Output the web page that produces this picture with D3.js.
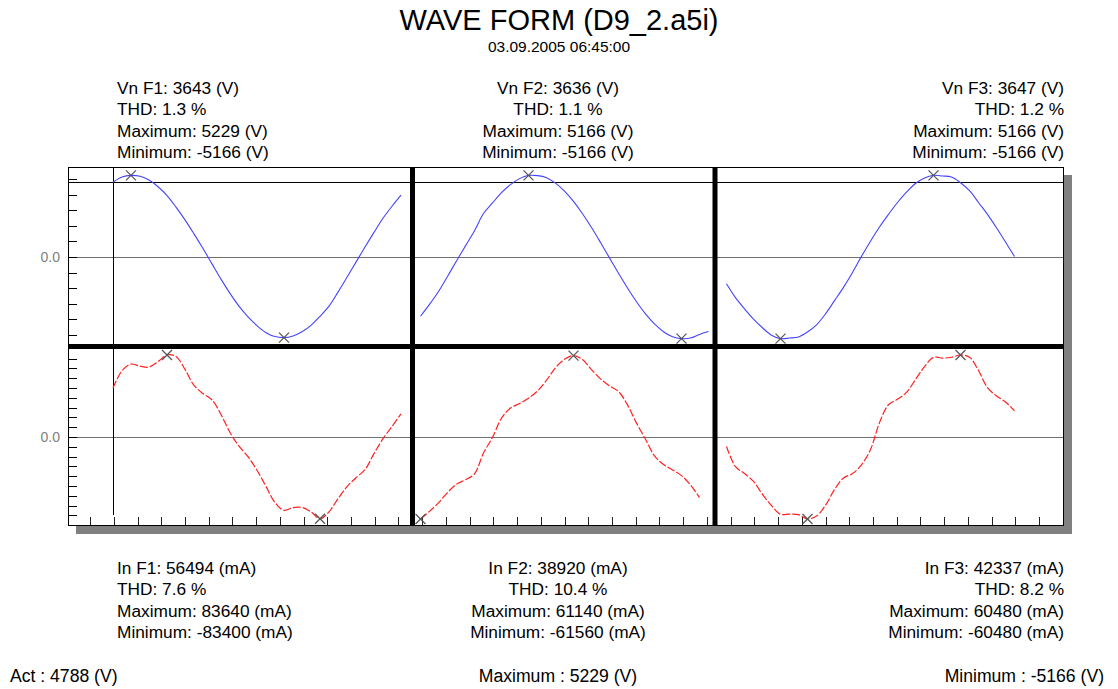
<!DOCTYPE html>
<html>
<head>
<meta charset="utf-8">
<script src="https://cdn.jsdelivr.net/npm/d3@7"></script>
<style>
  html, body { margin: 0; padding: 0; background: #ffffff; }
  svg { display: block; font-family: "Liberation Sans", Arial, sans-serif; }
</style>
</head>
<body>
<svg id="chart" width="1118" height="689"></svg>
<script>
// ---------------- data ----------------
const phases = ["F1", "F2", "F3"];
const sampleStepMs = 0.6;              // spacing of the recorded samples
const startMs = [3.0, 23.5, 43.9];     // first sample of each phase window

// phase-to-neutral voltage samples (V)
const voltageF1 = [4788, 5120, 5229, 5170, 4930, 4500, 3940, 3200, 2380, 1480, 540, -440, -1420,
  -2330, -3150, -3840, -4400, -4850, -5100, -5166, -5060, -4790, -4380, -3800, -3150, -2250,
  -1300, -330, 640, 1580, 2480, 3250, 3960];
const voltageF2 = [-3750, -3000, -2180, -1230, -250, 706, 1659, 2750, 3420, 4070, 4582, 4962, 5166,
  5150, 5023, 4680, 4175, 3520, 2740, 1863, 920, -55, -1028, -1965, -2832, -3600, -4237, -4728,
  -5050, -5166, -5130, -4900, -4720];
const voltageF3 = [-1690, -2570, -3280, -3930, -4480, -4950, -5166, -5130, -5060, -4750, -4300,
  -3600, -2760, -1920, -980, 40, 1000, 1900, 2700, 3450, 4100, 4650, 5000, 5166, 5130, 5060, 4700,
  4200, 3450, 2700, 1850, 950, 30];

// line current samples (mA)
const currentF1 = [50000, 67500, 74400, 72300, 71300, 76800, 83640, 82200, 69000, 52600, 44300,
  37900, 23000, 4600, -9400, -20100, -33900, -50400, -67000, -74800, -72000, -71900, -76300,
  -83400, -76300, -63000, -50700, -41600, -33300, -17000, -1700, 10800, 23500];
const currentF2 = [-61560, -55800, -49400, -41700, -35400, -32100, -27700, -12000, -300, 14100,
  21700, 25100, 29100, 34600, 42600, 52000, 58400, 61140, 58200, 50600, 43600, 38400, 34200,
  24100, 10400, -1700, -14200, -20700, -24700, -29000, -36000, -45500];
const currentF3 = [-7000, -21900, -26900, -32800, -42300, -50600, -57000, -56900, -57300, -60480,
  -58300, -50400, -38700, -30300, -27000, -20500, -9300, 10600, 23800, 27800, 32900, 42400, 51900,
  58800, 58200, 58800, 60480, 58900, 49000, 36400, 30300, 25800, 19300];

// summary values per phase
const vnRms = [3643, 3636, 3647];
const vnThd = [1.3, 1.1, 1.2];
const vnMax = [5229, 5166, 5166];
const vnMin = [-5166, -5166, -5166];
const inRms = [56494, 38920, 42337];
const inThd = [7.6, 10.4, 8.2];
const inMax = [83640, 61140, 60480];
const inMin = [-83400, -61560, -60480];

const actVoltage = 4788;
const overallMax = 5229;
const overallMin = -5166;

const voltageTicks = d3.range(-5000, 5001, 1000);
const currentTicks = d3.range(-90000, 90001, 10000);
const timeTickFirstMs = 1.47;
const timeTickStepMs = 1.5817;
const timeTickCount = 41;

const titleText = "WAVE FORM (D9_2.a5i)";
const dateText = "03.09.2005 06:45:00";

// ---------------- layout ----------------
const W = 1118, H = 689;
const frame = { left: 68, right: 1064, top: 167, bottom: 526 };
const dividerY = 346.5;
const dividerX = [412.5, 715];
const vZero = 257, iZero = 437;
const vHalf = 81.6, iHalf = 82;

const svg = d3.select("#chart");

const voltages = [voltageF1, voltageF2, voltageF3];
const currents = [currentF1, currentF2, currentF3];

const x = d3.scaleLinear().domain([0, 66.4]).range([frame.left, frame.right]);

function absExtent(arr) { return d3.max(arr, d => Math.abs(d)); }
const yV = voltages.map(s => d3.scaleLinear().domain([-absExtent(s), absExtent(s)]).range([vZero + vHalf, vZero - vHalf]));
const yI = currents.map(s => d3.scaleLinear().domain([-absExtent(s), absExtent(s)]).range([iZero + iHalf, iZero - iHalf]));

// ---------------- frame ----------------
svg.append("rect").attr("x", 0).attr("y", 0).attr("width", W).attr("height", H).attr("fill", "#ffffff");

svg.append("rect")
  .attr("x", frame.left + 8).attr("y", frame.top + 8)
  .attr("width", frame.right - frame.left).attr("height", frame.bottom - frame.top)
  .attr("fill", "#808080");
svg.append("rect")
  .attr("x", frame.left).attr("y", frame.top)
  .attr("width", frame.right - frame.left).attr("height", frame.bottom - frame.top)
  .attr("fill", "#ffffff");

// zero reference lines
[vZero, iZero].forEach(y0 => {
  svg.append("line")
    .attr("x1", frame.left).attr("x2", frame.right)
    .attr("y1", y0 + 0.5).attr("y2", y0 + 0.5)
    .attr("stroke", "#707070").attr("stroke-width", 1);
});

// cursor cross at the first sample of phase 1
const cursorX = Math.round(x(startMs[0])) + 0.5;
const cursorY = Math.round(yV[0](actVoltage)) + 0.5;
svg.append("line")
  .attr("x1", frame.left).attr("x2", frame.right)
  .attr("y1", cursorY).attr("y2", cursorY)
  .attr("stroke", "#000").attr("stroke-width", 1);
svg.append("line")
  .attr("x1", cursorX).attr("x2", cursorX)
  .attr("y1", frame.top).attr("y2", frame.bottom - 11)
  .attr("stroke", "#000").attr("stroke-width", 1);

// left ticks (scaled to phase 1)
const leftTicks = svg.append("g").attr("stroke", "#000").attr("stroke-width", 1);
voltageTicks.forEach(v => {
  const y = Math.round(yV[0](v)) + 0.5;
  leftTicks.append("line").attr("x1", frame.left).attr("x2", frame.left + 9).attr("y1", y).attr("y2", y);
});
currentTicks.forEach(v => {
  const y = Math.round(yI[0](v)) + 0.5;
  if (y > dividerY + 3 && y < frame.bottom) {
    leftTicks.append("line").attr("x1", frame.left).attr("x2", frame.left + 9).attr("y1", y).attr("y2", y);
  }
});

// bottom time ticks
const timeTicks = d3.range(timeTickCount).map(k => timeTickFirstMs + k * timeTickStepMs);
const bottomTicks = svg.append("g").attr("stroke", "#222").attr("stroke-width", 1);
timeTicks.forEach(t => {
  const xx = Math.round(x(t)) + 0.5;
  bottomTicks.append("line").attr("x1", xx).attr("x2", xx).attr("y1", frame.bottom).attr("y2", frame.bottom - 9);
});

// zero labels
svg.append("text").attr("x", 60).attr("y", vZero + 5).attr("text-anchor", "end")
  .attr("font-size", 14).attr("fill", "#808080").text("0.0");
svg.append("text").attr("x", 60).attr("y", iZero + 5).attr("text-anchor", "end")
  .attr("font-size", 14).attr("fill", "#808080").text("0.0");

// ---------------- waveforms ----------------
function drawMarker(cx, cy) {
  const r = 5;
  const g = svg.append("g").attr("stroke", "#555").attr("stroke-width", 1.2);
  g.append("line").attr("x1", cx - r).attr("y1", cy - r).attr("x2", cx + r).attr("y2", cy + r);
  g.append("line").attr("x1", cx - r).attr("y1", cy + r).attr("x2", cx + r).attr("y2", cy - r);
}

phases.forEach((ph, p) => {
  const tx = i => x(startMs[p] + i * sampleStepMs);

  const vLine = d3.line().x((d, i) => tx(i)).y(d => yV[p](d)).curve(d3.curveCatmullRom);
  svg.append("path").datum(voltages[p])
    .attr("d", vLine).attr("fill", "none")
    .attr("stroke", "#4444ff").attr("stroke-width", 1.1);

  const iLine = d3.line().x((d, i) => tx(i)).y(d => yI[p](d)).curve(d3.curveCatmullRom);
  svg.append("path").datum(currents[p])
    .attr("d", iLine).attr("fill", "none")
    .attr("stroke", "#ff2020").attr("stroke-width", 1.2)
    .attr("stroke-dasharray", "8,2");

  const vMaxI = d3.maxIndex(voltages[p]), vMinI = d3.minIndex(voltages[p]);
  drawMarker(tx(vMaxI), yV[p](voltages[p][vMaxI]));
  drawMarker(tx(vMinI), yV[p](voltages[p][vMinI]));
  const iMaxI = d3.maxIndex(currents[p]), iMinI = d3.minIndex(currents[p]);
  drawMarker(tx(iMaxI), yI[p](currents[p][iMaxI]));
  drawMarker(tx(iMinI), yI[p](currents[p][iMinI]));
});

// thick dividers and border
svg.append("line")
  .attr("x1", frame.left).attr("x2", frame.right).attr("y1", dividerY).attr("y2", dividerY)
  .attr("stroke", "#000").attr("stroke-width", 5);
dividerX.forEach(dx => {
  svg.append("line")
    .attr("x1", dx).attr("x2", dx).attr("y1", frame.top).attr("y2", frame.bottom)
    .attr("stroke", "#000").attr("stroke-width", 5);
});
svg.append("rect")
  .attr("x", frame.left + 0.5).attr("y", frame.top + 0.5)
  .attr("width", frame.right - frame.left - 1).attr("height", frame.bottom - frame.top - 1)
  .attr("fill", "none").attr("stroke", "#000").attr("stroke-width", 1);

// ---------------- texts ----------------
svg.append("text").attr("x", 559).attr("y", 30).attr("text-anchor", "middle")
  .attr("font-size", 29).attr("fill", "#000").text(titleText);
svg.append("text").attr("x", 559).attr("y", 51.5).attr("text-anchor", "middle")
  .attr("font-size", 15.5).attr("fill", "#000").text(dateText);

const colX = [117, 558, 1064];
const colAnchor = ["start", "middle", "end"];
const labelSize = 17.3;

phases.forEach((ph, p) => {
  const top = [
    `Vn ${ph}: ${vnRms[p]} (V)`,
    `THD: ${vnThd[p].toFixed(1)} %`,
    `Maximum: ${vnMax[p]} (V)`,
    `Minimum: ${vnMin[p]} (V)`
  ];
  const bottom = [
    `In ${ph}: ${inRms[p]} (mA)`,
    `THD: ${inThd[p].toFixed(1)} %`,
    `Maximum: ${inMax[p]} (mA)`,
    `Minimum: ${inMin[p]} (mA)`
  ];
  top.forEach((t, r) => {
    svg.append("text").attr("x", colX[p]).attr("y", 94 + r * 21.3)
      .attr("text-anchor", colAnchor[p]).attr("font-size", labelSize).attr("fill", "#000").text(t);
  });
  bottom.forEach((t, r) => {
    svg.append("text").attr("x", colX[p]).attr("y", 574 + r * 21.3)
      .attr("text-anchor", colAnchor[p]).attr("font-size", labelSize).attr("fill", "#000").text(t);
  });
});

svg.append("text").attr("x", 10).attr("y", 682).attr("text-anchor", "start")
  .attr("font-size", 17.6).attr("fill", "#000").text(`Act : ${actVoltage} (V)`);
svg.append("text").attr("x", 558).attr("y", 682).attr("text-anchor", "middle")
  .attr("font-size", 17.6).attr("fill", "#000").text(`Maximum : ${overallMax} (V)`);
svg.append("text").attr("x", 1104).attr("y", 682).attr("text-anchor", "end")
  .attr("font-size", 17.6).attr("fill", "#000").text(`Minimum : ${overallMin} (V)`);
</script>
</body>
</html>
